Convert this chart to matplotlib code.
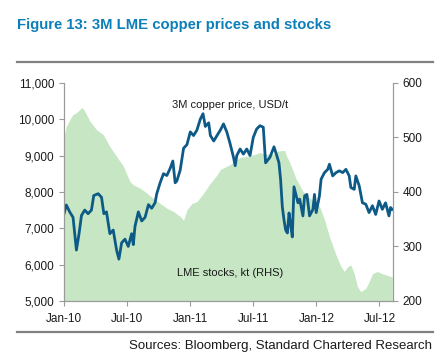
import matplotlib.pyplot as plt
from matplotlib.lines import Line2D

plt.rcParams['font.family'] = ['Liberation Sans', 'DejaVu Sans']

# months since Jan-2010
price_months = [0.00, 0.22, 0.54, 0.86, 1.02, 1.18, 1.43, 1.66, 1.97, 2.29, 2.61, 2.83, 3.25, 3.57,
                3.79, 4.04, 4.36, 4.68, 5.00, 5.22, 5.48, 5.80, 6.11, 6.43, 6.59, 6.75, 7.07, 7.39,
                7.71, 8.03, 8.34, 8.66, 8.82, 9.14, 9.46, 9.78, 10.10, 10.35, 10.57, 10.73, 11.05,
                11.37, 11.69, 12.01, 12.32, 12.64, 12.96, 13.22, 13.44, 13.76, 13.92, 14.24, 14.55,
                14.87, 15.17, 15.49, 15.80, 16.12, 16.28, 16.43, 16.75, 17.06, 17.38, 17.69, 18.00,
                18.32, 18.63, 18.95, 19.17, 19.58, 19.97, 20.21, 20.44, 20.60, 20.76, 20.92, 21.08,
                21.24, 21.40, 21.55, 21.71, 21.87, 22.25, 22.41, 22.72, 22.88, 23.10, 23.35, 23.67,
                23.82, 23.98, 24.29, 24.45, 24.77, 25.08, 25.24, 25.55, 25.87, 26.18, 26.50, 26.81,
                27.12, 27.28, 27.60, 27.75, 28.07, 28.38, 28.70, 29.01, 29.33, 29.64, 29.96, 30.27,
                30.58, 30.90, 31.05, 31.21]
copper_price = [7400, 7640, 7450, 7300, 6850, 6400, 6850, 7350, 7500, 7400, 7500, 7900, 7950, 7850,
                7400, 7450, 6850, 6950, 6400, 6150, 6600, 6700, 6500, 6850, 6550, 7050, 7450, 7200,
                7300, 7650, 7550, 7700, 7950, 8250, 8500, 8450, 8650, 8850, 8250, 8300, 8600,
                9200, 9300, 9650, 9550, 9700, 10000, 10150, 9800, 9900, 9550, 9400, 9550,
                9700, 9870, 9640, 9320, 8950, 8720, 9000, 9180, 9040, 9180, 9000, 9500,
                9730, 9820, 9780, 8800, 8950, 9240, 9020, 8800, 8330, 7590, 7230, 6950,
                6870, 7420, 7100, 6760, 8140, 7700, 7800, 7340, 7890, 7930, 7340, 7520,
                7930, 7430, 7890, 8350, 8530, 8620, 8760, 8440, 8530, 8580, 8530, 8620,
                8440, 8120, 8070, 8440, 8170, 7700, 7660, 7430, 7620, 7380, 7750, 7520,
                7700, 7340, 7570, 7520]

stock_months = [0.00, 0.22, 0.54, 0.86, 1.18, 1.72, 1.97, 2.45, 3.09, 3.73, 4.36, 5.00, 5.64, 6.27,
                6.59, 7.23, 7.87, 8.50, 9.14, 9.78, 10.41, 11.05, 11.37, 11.69, 12.17, 12.64, 13.28,
                13.92, 14.55, 14.86, 15.80, 16.75, 17.69, 18.63, 19.26, 19.89, 20.36, 20.99, 21.15,
                21.46, 22.09, 22.72, 23.35, 23.98, 24.29, 24.77, 25.24, 25.87, 26.34, 26.65, 26.97,
                27.28, 27.60, 27.91, 28.23, 28.45, 28.70, 29.01, 29.33, 29.80, 30.27, 30.74, 31.21]
lme_stocks = [502, 520, 532, 542, 545, 555, 548, 530, 514, 505, 483, 465, 447, 419,
              413, 407, 398, 388, 379, 370, 364, 355, 348, 367, 379, 382, 398,
              416, 431, 441, 450, 463, 466, 472, 469, 469, 475, 476, 466,
              454, 423, 401, 389, 380, 374, 349, 318, 284, 263, 254, 263,
              266, 250, 226, 217, 220, 223, 235, 250, 254, 250, 247, 244]

tick_months = [0, 6, 12, 18, 24, 30]
tick_labels = ['Jan-10', 'Jul-10', 'Jan-11', 'Jul-11', 'Jan-12', 'Jul-12']

fig = plt.figure(figsize=(4.46, 3.57), dpi=100)
ax = fig.add_axes([0.1435, 0.157, 0.738, 0.611])
ax2 = ax.twinx()

# stocks area on RHS, behind the price line
ax2.fill_between(stock_months, lme_stocks, 200, color='#c6e6c4', lw=0)
ax2.set_ylim(200, 600)
ax2.set_yticks([200, 300, 400, 500, 600])

ax.plot(price_months, copper_price, color='#0e5a87', lw=2)
ax.set_ylim(5000, 11000)
ax.set_yticks(range(5000, 11001, 1000))
ax.set_yticklabels([f'{v:,}' for v in range(5000, 11001, 1000)])
ax.set_xlim(0, 31.3)
ax.set_xticks(tick_months)
ax.set_xticklabels(tick_labels)
ax.set_zorder(ax2.get_zorder() + 1)
ax.patch.set_visible(False)

for a in (ax, ax2):
    for s in a.spines.values():
        s.set_color('#9a9a9a')
        s.set_linewidth(0.8)
    a.spines['top'].set_visible(False)
    a.tick_params(colors='#9a9a9a', labelcolor='#1a1a1a', labelsize=8.5, length=3.5, width=0.8)
ax.tick_params(axis='x', pad=5)

ax.text(0.505, 0.9, '3M copper price, USD/t', transform=ax.transAxes, ha='center',
        va='center', fontsize=8, color='#1a1a1a')
ax.text(0.505, 0.128, 'LME stocks, kt (RHS)', transform=ax.transAxes, ha='center',
        va='center', fontsize=8, color='#1a1a1a')

fig.text(0.038, 0.93, 'Figure 13: 3M LME copper prices and stocks', fontsize=10.7,
         fontweight='bold', color='#0d7fb8', va='center')
fig.add_artist(Line2D([0.038, 0.971], [0.826, 0.826], color='#808080', lw=1.6))
fig.add_artist(Line2D([0.038, 0.971], [0.069, 0.069], color='#808080', lw=1.6))
fig.text(0.969, 0.031, 'Sources: Bloomberg, Standard Chartered Research', fontsize=9.5,
         ha='right', va='center', color='#1a1a1a')

fig.savefig('out.png', dpi=100)
